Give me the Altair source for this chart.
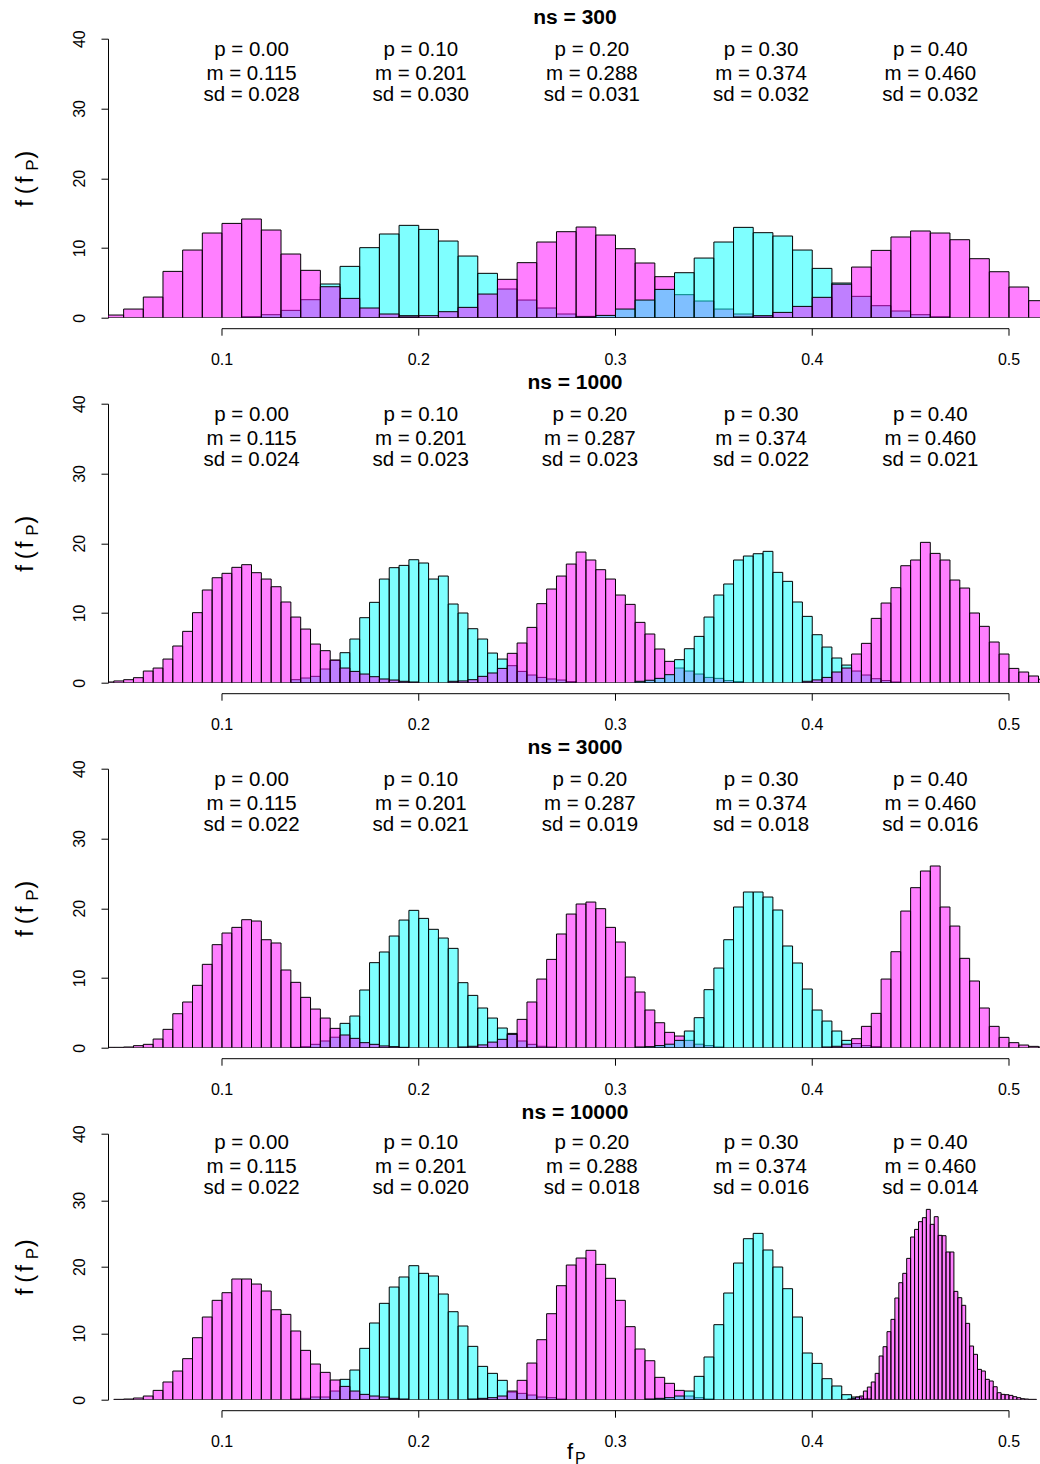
import altair as alt
import pandas as pd

FONT = "Liberation Sans"
MAGENTA = "#FF00FF"
CYAN = "#00FFFF"

SAMPLE_SIZES = [300, 1000, 3000, 10000]
P_VALUES = [0.0, 0.1, 0.2, 0.3, 0.4]

# summary statistics printed above each histogram
MEANS = {
    300: [0.115, 0.201, 0.288, 0.374, 0.460],
    1000: [0.115, 0.201, 0.287, 0.374, 0.460],
    3000: [0.115, 0.201, 0.287, 0.374, 0.460],
    10000: [0.115, 0.201, 0.288, 0.374, 0.460],
}
SDS = {
    300: [0.028, 0.030, 0.031, 0.032, 0.032],
    1000: [0.024, 0.023, 0.023, 0.022, 0.021],
    3000: [0.022, 0.021, 0.019, 0.018, 0.016],
    10000: [0.022, 0.020, 0.018, 0.016, 0.014],
}

# histogram densities, one list per (ns, p), starting at the given bin edge
NS300_P00 = [0.38, 1.24, 2.96, 6.64, 9.70, 12.14, 13.52, 14.15, 12.57, 9.13, 6.79, 4.44,
             2.77, 1.39, 0.53, 0.29]
NS300_P10 = [0.14, 0.43, 1.05, 2.58, 4.83, 7.36, 10.04, 12.00, 13.24, 12.66, 10.99, 8.84,
             6.36, 4.11, 2.53, 1.39, 0.53, 0.19]
NS300_P20 = [0.10, 0.29, 0.86, 1.48, 3.39, 5.50, 7.89, 10.85, 12.33, 13.00, 11.85, 9.89,
             7.84, 5.88, 3.30, 2.39, 1.24, 0.53, 0.14]
NS300_P30 = [0.10, 0.33, 1.24, 2.53, 4.06, 6.45, 8.55, 10.85, 12.95, 12.19, 11.71, 9.70,
             7.07, 4.97, 3.06, 1.72, 0.96, 0.43, 0.14]
NS300_P40 = [0.10, 0.29, 0.76, 1.62, 2.92, 4.80, 7.26, 9.65, 11.57, 12.43, 12.14, 11.18,
             8.46, 6.59, 4.40, 2.44, 1.20, 0.50]

NS1000_P00 = [0.10, 0.25, 0.43, 0.72, 1.67, 2.10, 3.39, 5.26, 7.36, 10.04, 13.29, 15.05,
              15.68, 16.54, 16.92, 15.77, 14.86, 13.76, 11.57, 9.41, 7.69, 5.54, 4.59,
              3.25, 2.10, 1.62, 1.24, 0.86, 0.53, 0.38, 0.20, 0.10]
NS1000_P10 = [0.43, 0.67, 0.91, 1.96, 3.20, 4.30, 6.26, 9.32, 11.52, 14.86, 16.49, 16.82,
              17.63, 17.16, 14.86, 15.29, 11.28, 9.99, 7.74, 6.26, 4.25, 3.39, 2.44, 1.62,
              1.10, 0.76, 0.53, 0.38, 0.15]
NS1000_P20 = [0.20, 0.25, 0.43, 0.91, 1.39, 2.05, 4.21, 5.69, 7.93, 11.33, 13.43, 15.29,
              17.01, 18.73, 17.59, 16.20, 14.86, 12.57, 11.23, 8.65, 6.98, 4.83, 3.06,
              2.10, 1.67, 1.24, 0.76, 0.62, 0.30, 0.15]
NS1000_P30 = [0.20, 0.35, 0.62, 1.15, 3.30, 4.87, 6.64, 9.41, 12.57, 14.15, 17.59, 18.16,
              18.49, 18.83, 15.82, 14.53, 11.57, 9.51, 6.88, 5.11, 3.54, 2.53, 1.67, 1.10,
              0.57, 0.30, 0.10]
NS1000_P40 = [0.20, 0.40, 0.76, 1.53, 2.10, 4.11, 5.64, 9.22, 11.42, 13.62, 16.77, 17.59,
              20.12, 18.54, 17.59, 14.72, 13.57, 9.99, 8.08, 5.83, 4.11, 2.05, 1.53, 0.96,
              0.50]

NS3000_P00 = [0.05, 0.05, 0.10, 0.29, 0.48, 1.24, 2.63, 4.87, 6.55, 8.94, 11.95, 14.77,
              16.44, 17.25, 18.35, 18.16, 15.48, 15.01, 11.14, 9.37, 7.22, 5.54, 4.25,
              2.77, 1.82, 1.34, 0.72, 0.48, 0.25, 0.15, 0.05]
NS3000_P10 = [0.05, 0.14, 0.48, 0.96, 1.50, 3.49, 4.54, 8.27, 12.19, 13.72, 16.01, 18.30,
              19.69, 18.54, 16.97, 15.72, 14.24, 9.32, 7.50, 5.69, 4.25, 2.82, 2.05, 0.96,
              0.48, 0.20, 0.10]
NS3000_P20 = [0.10, 0.20, 0.40, 0.80, 1.20, 1.91, 4.06, 6.55, 9.84, 12.66, 16.30, 19.16,
              20.60, 20.88, 19.93, 17.25, 15.15, 10.13, 7.98, 5.40, 3.58, 2.20, 1.67, 1.05,
              0.50, 0.30, 0.10]
NS3000_P30 = [0.10, 0.15, 0.30, 0.50, 1.05, 2.39, 4.30, 8.32, 11.42, 15.48, 20.17, 22.32,
              22.32, 21.60, 19.74, 14.58, 12.14, 8.41, 5.40, 3.82, 2.39, 1.05, 0.60, 0.30,
              0.15]
NS3000_P40 = [0.10, 0.20, 0.50, 1.29, 3.06, 4.92, 9.84, 13.76, 19.59, 22.94, 25.33, 26.05,
              20.17, 17.44, 12.81, 9.56, 5.69, 3.06, 1.48, 0.72, 0.38, 0.19, 0.10]

NS10000_P00 = [0.05, 0.10, 0.25, 0.55, 1.40, 2.66, 4.31, 6.17, 9.32, 12.43, 14.94, 16.09,
               18.15, 18.15, 17.39, 16.34, 13.53, 12.83, 10.33, 7.42, 5.36, 4.11, 2.96,
               2.00, 1.30, 0.80, 0.55, 0.40, 0.20, 0.10]
NS10000_P10 = [0.10, 0.20, 0.40, 0.40, 1.30, 3.06, 4.46, 7.72, 11.53, 14.49, 16.94, 18.45,
               20.15, 19.00, 18.60, 15.89, 13.23, 11.08, 8.02, 5.01, 3.96, 2.91, 1.15, 0.95,
               0.70, 0.40, 0.30, 0.10]
NS10000_P20 = [0.10, 0.20, 0.30, 0.55, 1.30, 2.91, 5.51, 9.02, 12.93, 17.14, 20.25, 21.30,
               22.46, 20.35, 18.25, 14.94, 10.98, 7.62, 5.86, 3.36, 2.46, 1.40, 0.55, 0.30,
               0.10]
NS10000_P30 = [0.10, 0.20, 0.30, 0.55, 1.30, 3.51, 6.42, 11.28, 16.04, 20.55, 24.21, 25.01,
               22.51, 19.95, 16.69, 12.43, 7.02, 5.46, 3.16, 2.06, 0.75, 0.40, 0.15]
NS10000_P40 = [0.10, 0.20, 0.40, 0.55, 1.30, 1.90, 2.66, 3.96, 6.57, 7.97, 10.23, 12.08,
               15.29, 17.59, 19.00, 21.25, 24.46, 25.61, 26.77, 27.37, 28.62, 26.37, 27.52,
               24.71, 24.66, 22.21, 22.21, 16.29, 15.34, 14.19, 11.48, 8.07, 6.82, 4.56,
               4.31, 3.06, 2.81, 1.95, 1.05, 0.80, 0.75, 0.65, 0.45, 0.30, 0.15, 0.10,
               0.05, 0.05]

# (ns, p, first bin edge, bin width, densities)
SERIES = [
    (300, 0.0, 0.040, 0.010, NS300_P00),
    (300, 0.1, 0.110, 0.010, NS300_P10),
    (300, 0.2, 0.190, 0.010, NS300_P20),
    (300, 0.3, 0.280, 0.010, NS300_P30),
    (300, 0.4, 0.360, 0.010, NS300_P40),
    (1000, 0.0, 0.040, 0.005, NS1000_P00),
    (1000, 0.1, 0.135, 0.005, NS1000_P10),
    (1000, 0.2, 0.215, 0.005, NS1000_P20),
    (1000, 0.3, 0.310, 0.005, NS1000_P30),
    (1000, 0.4, 0.395, 0.005, NS1000_P40),
    (3000, 0.0, 0.040, 0.005, NS3000_P00),
    (3000, 0.1, 0.135, 0.005, NS3000_P10),
    (3000, 0.2, 0.220, 0.005, NS3000_P20),
    (3000, 0.3, 0.310, 0.005, NS3000_P30),
    (3000, 0.4, 0.405, 0.005, NS3000_P40),
    (10000, 0.0, 0.045, 0.005, NS10000_P00),
    (10000, 0.1, 0.135, 0.005, NS10000_P10),
    (10000, 0.2, 0.225, 0.005, NS10000_P20),
    (10000, 0.3, 0.315, 0.005, NS10000_P30),
    (10000, 0.4, 0.418, 0.002, NS10000_P40),
]

# histograms are painted in this order, so overlaps tint as in the original figure
DRAW_ORDER = [0.1, 0.0, 0.2, 0.3, 0.4]

X_TICKS = [0.1, 0.2, 0.3, 0.4, 0.5]
Y_TICKS = [0, 10, 20, 30, 40]

X_MIN, X_MAX = 0.04206, 0.51576
PLOT_W = 932
PLOT_H = {300: 279, 1000: 279, 3000: 279, 10000: 266}
TOP_ROOM = 33.3
BOTTOM_ROOM = {300: 51.3, 1000: 51.3, 3000: 51.3, 10000: 67}

rows = []
for ns, p, start, width, dens in SERIES:
    colour = MAGENTA if P_VALUES.index(p) % 2 == 0 else CYAN
    for i, d in enumerate(dens):
        lo = round(start + i * width, 4)
        rows.append({"ns": ns, "p": p, "rank": DRAW_ORDER.index(p), "i": i,
                     "lo": lo, "hi": round(lo + width, 4), "density": d, "base": 0.0,
                     "colour": colour})
bars = pd.DataFrame(rows).sort_values(["ns", "rank", "i"]).reset_index(drop=True)

one = pd.DataFrame({"k": [0]})

Y_AXIS = alt.Axis(
    values=Y_TICKS, title=None, grid=False, domainColor="black",
    domainWidth=1, tickColor="black", tickWidth=1, tickSize=7,
    labelAngle=270, labelAlign="center", labelBaseline="middle",
    labelPadding=22, labelFont=FONT, labelFontSize=16, labelColor="black",
    labelOverlap=False, format="d")


def label_char(text, x, y, size):
    return alt.Chart(one).mark_text(
        angle=270, align="left", baseline="middle", fontSize=size, font=FONT,
        color="black"
    ).encode(x=alt.value(x), y=alt.value(y), text=alt.value(text))


def make_panel(ns):
    h = PLOT_H[ns]
    last = ns == SAMPLE_SIZES[-1]
    xs = alt.Scale(domain=[X_MIN, X_MAX], nice=False, zero=False)
    ys = alt.Scale(domain=[0, 40], nice=False, zero=True)

    bars_layer = alt.Chart(bars[bars.ns == ns]).mark_rect(
        stroke="black", strokeWidth=1, fillOpacity=0.5, clip=True
    ).encode(
        x=alt.X("lo:Q", scale=xs, axis=None),
        x2="hi:Q",
        y=alt.Y("density:Q", scale=ys, axis=Y_AXIS),
        y2="base:Q",
        fill=alt.Fill("colour:N", scale=None),
    )

    ann = pd.DataFrame({
        "x": MEANS[ns],
        "y": [35] * 5,
        "l1": [f"p = {p:.2f}" for p in P_VALUES],
        "l2": [f"m = {m:.3f}" for m in MEANS[ns]],
        "l3": [f"sd = {s:.3f}" for s in SDS[ns]],
    })
    ann_layers = [
        alt.Chart(ann).mark_text(dy=dy, fontSize=20.5, font=FONT, color="black",
                                 align="center", baseline="middle").encode(
            x=alt.X("x:Q", scale=xs, axis=None),
            y=alt.Y("y:Q", scale=ys, axis=Y_AXIS),
            text=f"{field}:N",
        )
        for field, dy in [("l1", -23.5), ("l2", 0), ("l3", 21)]
    ]

    # x axis drawn from 0.1 to 0.5 only, offset below the plot
    ticks = pd.DataFrame({"t": X_TICKS, "label": [f"{t:.1f}" for t in X_TICKS]})
    span = pd.DataFrame({"a": [X_TICKS[0]], "b": [X_TICKS[-1]]})
    axis_line = alt.Chart(span).mark_rule(color="black", strokeWidth=1).encode(
        x=alt.X("a:Q", scale=xs, axis=None), x2="b:Q", y=alt.value(h + 11))
    axis_ticks = alt.Chart(ticks).mark_rule(color="black", strokeWidth=1).encode(
        x=alt.X("t:Q", scale=xs, axis=None), y=alt.value(h + 11), y2=alt.value(h + 18))
    axis_labels = alt.Chart(ticks).mark_text(
        fontSize=16, font=FONT, color="black", baseline="middle", align="center"
    ).encode(x=alt.X("t:Q", scale=xs, axis=None), y=alt.value(h + 42), text="label:N")

    title = alt.Chart(one).mark_text(
        fontSize=21, fontWeight="bold", font=FONT, color="black", align="center",
        baseline="middle"
    ).encode(x=alt.value(467), y=alt.value(-21), text=alt.value(f"ns = {ns}"))

    # y label f(f_P), rotated, with a lowered P
    c = h / 2
    ylab = [
        label_char("f", -82, c + 28.5, 24),
        label_char("(", -82, c + 16, 24),
        label_char("f", -82, c + 5, 24),
        label_char("P", -75, c - 7.5, 17),
        label_char(")", -82, c - 19.5, 24),
    ]

    # fixes the extent of each panel so the stack lines up
    frame = alt.Chart(one).mark_rule(color="white", strokeWidth=1).encode(
        x=alt.value(-107.5), y=alt.value(-TOP_ROOM + 0.5),
        y2=alt.value(h + BOTTOM_ROOM[ns] - 0.5))

    layers = [frame, bars_layer, *ann_layers, axis_line, axis_ticks, axis_labels,
              title, *ylab]
    if last:
        layers += [
            alt.Chart(one).mark_text(fontSize=22, font=FONT, color="black",
                                     align="center", baseline="middle").encode(
                x=alt.value(462), y=alt.value(h + 52), text=alt.value("f")),
            alt.Chart(one).mark_text(fontSize=16, font=FONT, color="black",
                                     align="left", baseline="middle").encode(
                x=alt.value(467), y=alt.value(h + 59), text=alt.value("P")),
        ]
    return alt.layer(*layers).properties(width=PLOT_W, height=h)


chart = alt.vconcat(*[make_panel(ns) for ns in SAMPLE_SIZES], spacing=0).properties(
    padding={"top": 4.7, "bottom": 0, "left": 0, "right": 0}, background="white"
).configure_view(stroke=None)

chart.save("out.html", embed_options={"renderer": "svg", "actions": False})
